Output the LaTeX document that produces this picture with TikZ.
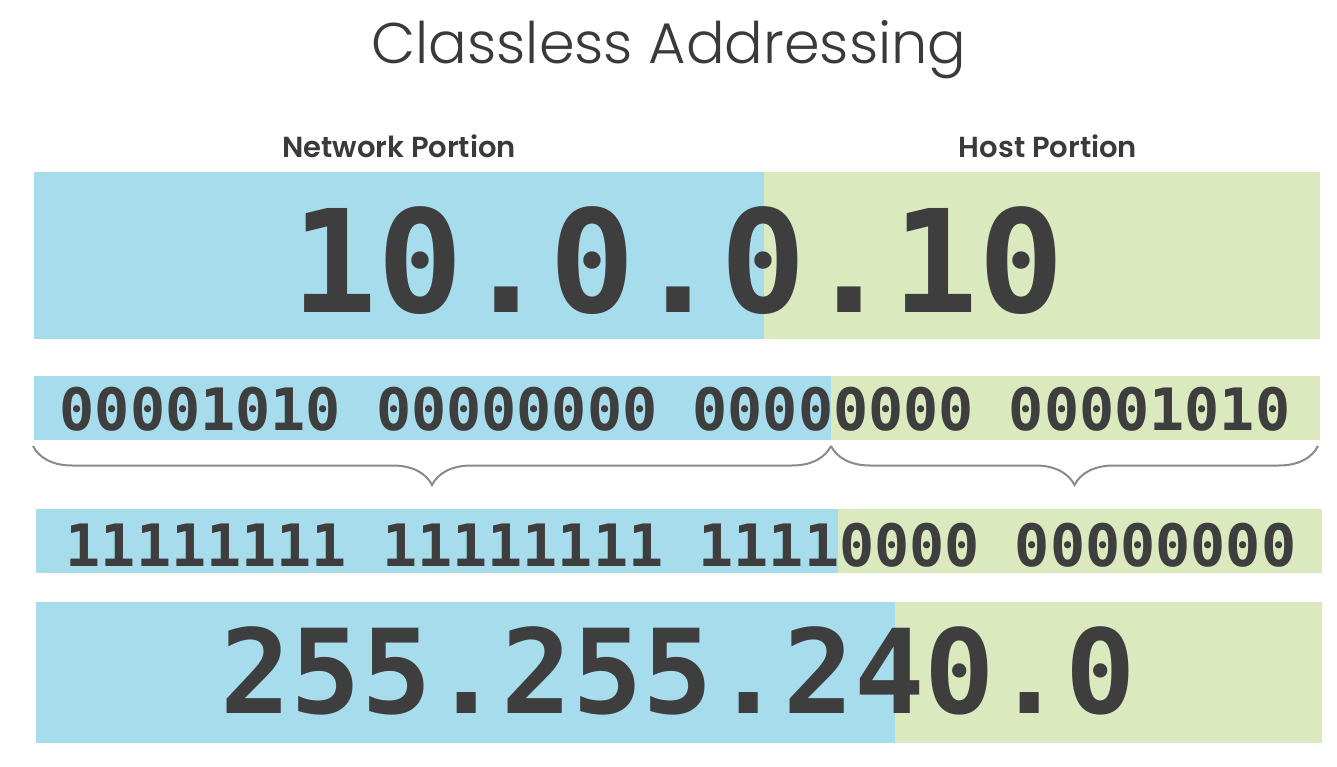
\documentclass[tikz,border=0pt]{standalone}
\usepackage{fontspec}
\usetikzlibrary{decorations.pathreplacing}
\setmonofont{DejaVu Sans Mono}
\IfFontExistsTF{Poppins Light}{\newfontfamily\titlefont{Poppins Light}}{\newfontfamily\titlefont{Poppins}}
\IfFontExistsTF{Poppins SemiBold}{\newfontfamily\labelfont{Poppins SemiBold}}{\newfontfamily\labelfont{Poppins}[FakeBold=1.5]}
\definecolor{netblue}{HTML}{A6DCEC}
\definecolor{hostgreen}{HTML}{DBE9BF}
\definecolor{digitgray}{HTML}{3E3E3E}
\definecolor{labelgray}{HTML}{3A3A3A}
\definecolor{bracegray}{HTML}{8A8A8A}
\tikzset{
    netband/.style={fill=netblue}, % network part of a row
    hostband/.style={fill=hostgreen}, % host part of a row
    digits/.style={anchor=base, inner sep=0pt, text=digitgray},
    portion/.style={anchor=base, inner sep=0pt, text=labelgray,
        font=\labelfont\fontsize{29}{29}\selectfont},
    bitbrace/.style={draw=bracegray, line width=2pt, decorate,
        decoration={brace, amplitude=39pt}}}

\begin{document}
\begin{tikzpicture}[x=1pt, y=-1pt]
        \useasboundingbox[fill=white] (0,0) rectangle (1337,767);

        % Title
        \node[anchor=base, inner sep=0pt, text=labelgray,
            font=\titlefont\fontsize{57.3}{58}\selectfont] (title) at (669,64) {Classless Addressing};

        % Column labels
        \node[portion] (netlabel) at (399,158) {Network Portion};
        \node[portion] (hostlabel) at (1048,158) {Host Portion};

        % Address row
        \fill[netband] (34,172) rectangle (764,339);
        \fill[hostband] (764,172) rectangle (1320,339);
        \node[digits, font=\ttfamily\bfseries\fontsize{142.7}{143}\selectfont] (addr) at (678,312) {10.0.0.10};

        % Address in binary
        \fill[netband] (34,376) rectangle (831,440);
        \fill[hostband] (831,376) rectangle (1320,440);
        \node[digits, font=\ttfamily\bfseries\fontsize{58.4}{59}\selectfont] (addrbits) at (675,430)
            {00001010 00000000 00000000 00001010};

        % Braces under the binary address
        \coordinate (netL) at (33,446);
        \coordinate (split) at (831,446);
        \coordinate (hostR) at (1318,446);
        \draw[bitbrace] (split) -- (netL);
        \draw[bitbrace] (hostR) -- (split);

        % Mask in binary
        \fill[netband] (36,509) rectangle (838,573);
        \fill[hostband] (838,509) rectangle (1322,573);
        \node[digits, font=\ttfamily\bfseries\fontsize{58.4}{59}\selectfont] (maskbits) at (681,566)
            {11111111 11111111 11110000 00000000};

        % Mask in dotted decimal
        \fill[netband] (36,602) rectangle (895,743);
        \fill[hostband] (895,602) rectangle (1322,743);
        \node[digits, font=\ttfamily\bfseries\fontsize{117}{117}\selectfont] (mask) at (678,713) {255.255.240.0};

    \end{tikzpicture}
\end{document}
